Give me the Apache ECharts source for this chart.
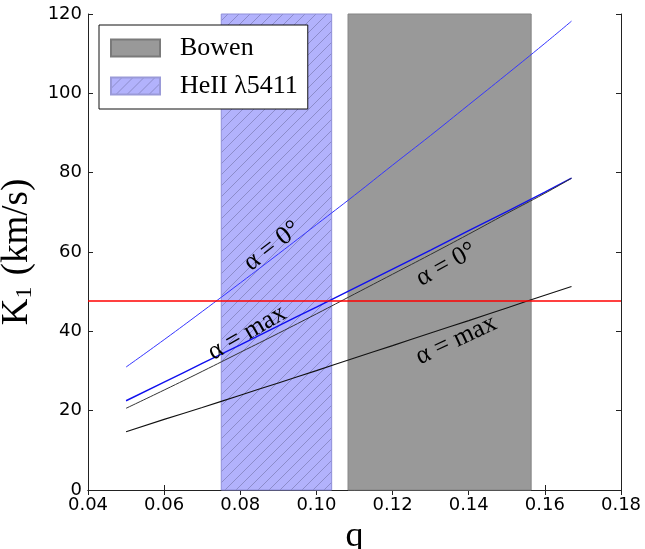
<!DOCTYPE html>
<html>
<head>
<meta charset="utf-8">
<script src="https://cdn.jsdelivr.net/npm/echarts@6/dist/echarts.min.js"></script>
<style>html,body{margin:0;padding:0;background:#fff;}#c{width:645px;height:549px;}</style>
</head>
<body>
<div id="c"></div>
<script>
// ---- data ----
const qValues = [0.05, 0.06, 0.07, 0.08, 0.09, 0.10, 0.11, 0.12, 0.13, 0.14, 0.15, 0.16, 0.167];
const k1BlueAlpha0   = [31.0, 37.9, 45.0, 52.2, 59.5, 66.9, 74.3, 81.9, 89.4, 97.1, 104.8, 112.6, 118.2];
const k1BlueAlphaMax = [22.5, 27.2, 31.9, 36.6, 41.4, 46.1, 50.9, 55.7, 60.5, 65.4, 70.2, 75.1, 78.6];
const k1BlackAlpha0  = [20.6, 25.2, 29.9, 34.7, 39.5, 44.4, 49.4, 54.4, 59.4, 64.5, 69.7, 74.8, 78.6];
const k1BlackAlphaMax= [14.7, 17.8, 20.8, 23.9, 27.0, 30.1, 33.3, 36.4, 39.6, 42.7, 45.9, 49.1, 51.3];
const bowenBand = [0.1083, 0.1564];
const heIIBand = [0.075, 0.104];
const k1Observed = 47.8;
const xTicks = [0.04, 0.18, 0.02];
const yTicks = [0, 120, 20];
const legendNames = ['Bowen', 'HeII λ5411'];
// curve labels: [text, q, K, angle(deg), color]
const curveLabels = [
  ['α = 0°', 0.0884, 61.5, 38, '#000'],
  ['α = max', 0.0818, 39.6, 30, '#000'],
  ['α = 0°', 0.1341, 56.8, 29, '#000'],
  ['α = max', 0.1367, 37.8, 25, '#000']
];

function pair(xs, ys){ return xs.map((x,i)=>[x, ys[i]]); }

function hatchCanvas(){
  const s = 11;
  const c = document.createElement('canvas');
  c.width = s; c.height = s;
  const g = c.getContext('2d');
  g.fillStyle = 'rgb(178,178,252)';
  g.fillRect(0,0,s,s);
  g.strokeStyle = 'rgba(100,100,150,0.55)';
  g.lineWidth = 0.9;
  g.beginPath();
  g.moveTo(-1,s+1); g.lineTo(s+1,-1);
  g.moveTo(-1,1); g.lineTo(1,-1);
  g.moveTo(s-1,s+1); g.lineTo(s+1,s-1);
  g.stroke();
  return c;
}
const hatch = {image: hatchCanvas(), repeat: 'repeat'};

const chart = echarts.init(document.getElementById('c'), null, {renderer: 'canvas'});

const axisCommon = {
  type: 'value',
  axisLine: {show: true, lineStyle: {color: '#222', width: 1}},
  axisTick: {show: true, inside: true, length: 5, lineStyle: {color: '#222'}},
  splitLine: {show: false}
};

const option = {
  animation: false,
  backgroundColor: '#fff',
  grid: {left: 88, right: 24, top: 14, bottom: 59, containLabel: false, outerBoundsMode: 'none'},
  legend: {
    data: legendNames.map(n => ({name: n, icon: 'rect'})),
    orient: 'vertical',
    left: 99, top: 25,
    padding: [10, 10, 10, 11],
    itemWidth: 49, itemHeight: 17, itemGap: 12,
    backgroundColor: '#fff',
    borderColor: '#111', borderWidth: 1,
    selectedMode: false,
    textStyle: {fontFamily: 'Liberation Serif', fontSize: 26, color: '#000', padding: [0,0,0,15], lineHeight: 17}
  },
  xAxis: [
    Object.assign({}, axisCommon, {
      min: xTicks[0], max: xTicks[1], interval: xTicks[2], position: 'bottom',
      axisLabel: {formatter: v => v.toFixed(2), fontFamily: 'DejaVu Sans', fontSize: 18, color: '#000', margin: 6},
      name: 'q', nameLocation: 'middle', nameGap: 17,
      nameTextStyle: {fontFamily: 'Liberation Serif', fontSize: 36, color: '#000'}
    }),
    Object.assign({}, axisCommon, {
      min: xTicks[0], max: xTicks[1], interval: xTicks[2], position: 'top',
      axisLabel: {show: false}
    })
  ],
  yAxis: [
    Object.assign({}, axisCommon, {
      min: yTicks[0], max: yTicks[1], interval: yTicks[2], position: 'left',
      axisLabel: {fontFamily: 'DejaVu Sans', fontSize: 18, color: '#000', margin: 6},
      name: 'K{s|1} (km/s)', nameLocation: 'middle', nameGap: 42,
      nameTextStyle: {fontFamily: 'Liberation Serif', fontSize: 37, color: '#000',
        rich: {s: {fontFamily: 'Liberation Serif', fontSize: 24, verticalAlign: 'bottom', padding: [14,2,0,0]}}}
    }),
    Object.assign({}, axisCommon, {
      min: yTicks[0], max: yTicks[1], interval: yTicks[2], position: 'right',
      axisLabel: {show: false}
    })
  ],
  series: [
    {
      name: legendNames[0], type: 'line', data: [], xAxisIndex: 0, yAxisIndex: 0,
      itemStyle: {color: '#999999', borderColor: '#7a7a7a', borderWidth: 1},
      z: 1,
      markArea: {
        silent: true,
        itemStyle: {color: '#999999', borderColor: '#858585', borderWidth: 1},
        data: [[{xAxis: bowenBand[0], yAxis: yTicks[0]}, {xAxis: bowenBand[1], yAxis: yTicks[1]}]]
      }
    },
    {
      name: legendNames[1], type: 'line', data: [], xAxisIndex: 0, yAxisIndex: 0,
      itemStyle: {color: hatch, borderColor: '#9a9ad8', borderWidth: 1},
      z: 1,
      markArea: {
        silent: true,
        itemStyle: {color: hatch, borderColor: '#8f8fd8', borderWidth: 1},
        data: [[{xAxis: heIIBand[0], yAxis: yTicks[0]}, {xAxis: heIIBand[1], yAxis: yTicks[1]}]]
      }
    },
    {
      name: 'blue0', type: 'line', data: pair(qValues, k1BlueAlpha0), smooth: true, showSymbol: false,
      lineStyle: {color: '#3535ff', width: 1}, z: 3
    },
    {
      name: 'blueMax', type: 'line', data: pair(qValues, k1BlueAlphaMax), smooth: true, showSymbol: false,
      lineStyle: {color: '#1010ee', width: 1.4}, z: 3
    },
    {
      name: 'black0', type: 'line', data: pair(qValues, k1BlackAlpha0), smooth: true, showSymbol: false,
      lineStyle: {color: '#333', width: 1}, z: 3
    },
    {
      name: 'blackMax', type: 'line', data: pair(qValues, k1BlackAlphaMax), smooth: true, showSymbol: false,
      lineStyle: {color: '#111', width: 1.1}, z: 3
    },
    {
      name: 'obs', type: 'line', data: [], z: 4,
      markLine: {
        silent: true, symbol: 'none', label: {show: false},
        lineStyle: {color: '#ff0000', width: 1.5, type: 'solid'},
        data: [{yAxis: k1Observed}]
      }
    }
  ]
};
chart.setOption(option);

const graphics = curveLabels.map(l => {
  const p = chart.convertToPixel({xAxisIndex: 0, yAxisIndex: 0}, [l[1], l[2]]);
  return {
    type: 'text', x: p[0], y: p[1], rotation: l[3] * Math.PI / 180, z: 10,
    style: {
      text: l[0], fill: l[4], fontFamily: 'Liberation Serif', fontSize: 26,
      align: 'center', verticalAlign: 'middle'
    }
  };
});
chart.setOption({graphic: graphics});
</script>
</body>
</html>
